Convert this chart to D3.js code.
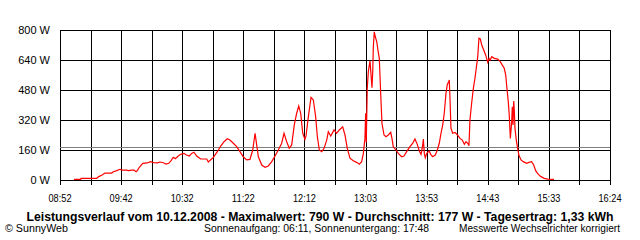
<!DOCTYPE html>
<meta charset="utf-8">
<style>
body { margin: 0; background: #fff; }
svg { font-family: "Liberation Sans", Arial, sans-serif; font-size: 10px; }
.grid line { stroke: #000; shape-rendering: crispEdges; }
</style>
<body>
<script src="https://cdn.jsdelivr.net/npm/d3@7"></script>
<script>

// day start 08:52, day end 16:24 (452 min); samples as minutes after start
var startLabel = "08:52";
var spanMinutes = 452;
var xTickLabels = ["08:52", "09:42", "10:32", "11:22", "12:12", "13:03", "13:53", "14:43", "15:33", "16:24"];
var yTicks = [0, 160, 320, 480, 640, 800];
var average = 177;

var minutesAfterStart = [
  11.5, 17.0, 17.3, 30.2, 31.8, 34.3, 37.0, 42.5, 43.8, 46.6,
  49.3, 51.2, 54.8, 56.1, 58.9, 60.8, 62.5, 63.5, 65.2, 68.0,
  71.7, 74.5, 77.2, 80.0, 82.2, 84.9, 87.1, 89.3, 91.0, 93.1,
  94.8, 97.2, 99.2, 101.9, 103.5, 106.3, 108.2, 110.1, 112.3, 115.6,
  120.6, 121.9, 126.0, 129.3, 132.1, 134.8, 137.5, 139.7, 142.4, 145.2,
  147.9, 150.6, 153.4, 156.1, 158.4, 160.3, 161.1, 163.0, 165.8, 168.5,
  171.2, 174.0, 176.7, 179.4, 182.2, 184.1, 186.3, 188.4, 190.4, 192.5,
  194.5, 196.2, 197.8, 199.5, 201.3, 202.2, 204.1, 206.3, 208.2, 210.1,
  211.5, 213.1, 215.1, 217.0, 219.2, 220.5, 222.5, 225.2, 227.4, 229.5,
  232.3, 234.2, 236.1, 238.3, 241.0, 243.8, 246.0, 247.9, 249.3, 250.6,
  251.2, 251.7, 252.5, 253.4, 254.2, 254.8, 255.6, 256.4, 257.0, 257.5,
  258.3, 259.1, 260.3, 261.3, 262.4, 263.6, 264.6, 266.3, 267.9, 269.8,
  271.8, 272.8, 273.9, 276.1, 278.0, 280.8, 282.7, 284.9, 287.6, 289.9,
  291.7, 293.6, 295.3, 296.7, 298.1, 298.6, 299.4, 300.2, 301.4, 303.5,
  304.6, 306.3, 308.4, 310.1, 311.7, 313.1, 314.5, 315.8, 317.2, 318.3,
  319.4, 319.9, 320.5, 321.3, 322.7, 324.6, 326.7, 328.7, 330.6, 332.3,
  333.7, 335.1, 336.1, 336.9, 338.3, 339.7, 341.0, 342.1, 343.3, 344.3,
  345.4, 346.6, 348.2, 349.8, 351.5, 352.6, 353.6, 354.8, 356.9, 359.7,
  361.8, 363.5, 365.1, 366.3, 367.3, 368.4, 369.2, 370.1, 371.2, 371.7,
  372.3, 372.9, 373.4, 373.9, 375.0, 376.1, 377.2, 378.9, 380.7, 383.5,
  385.4, 387.6, 389.3, 390.9, 393.1, 395.3, 398.0, 400.8, 406.0
];
var watts = [
  3, 3, 9, 9, 18, 25, 37, 37, 44, 50,
  57, 53, 53, 50, 53, 53, 44, 50, 68, 89,
  91, 98, 92, 91, 96, 92, 85, 89, 101, 121,
  114, 128, 137, 142, 135, 128, 142, 148, 128, 112,
  112, 96, 121, 151, 181, 204, 220, 213, 196, 178,
  151, 124, 107, 110, 160, 249, 213, 124, 80, 68,
  75, 98, 128, 160, 196, 249, 204, 169, 187, 293,
  356, 395, 356, 249, 217, 235, 338, 441, 427, 338,
  231, 160, 151, 169, 213, 258, 235, 267, 249, 267,
  284, 240, 169, 116, 103, 94, 84, 98, 142, 222,
  356, 200, 489, 578, 613, 635, 560, 492, 578, 711,
  790, 764, 738, 693, 649, 453, 302, 240, 231, 240,
  254, 222, 178, 160, 142, 124, 128, 151, 178, 196,
  219, 190, 155, 137, 187, 219, 142, 119, 142, 155,
  137, 124, 133, 160, 196, 249, 293, 356, 462, 510,
  524, 533, 436, 276, 249, 254, 240, 222, 213, 190,
  204, 196, 183, 320, 409, 489, 542, 596, 658, 756,
  752, 720, 693, 667, 628, 649, 640, 658, 649, 645,
  631, 613, 596, 560, 489, 418, 347, 222, 311, 391,
  293, 421, 364, 276, 213, 169, 130, 107, 98, 89,
  94, 98, 80, 50, 30, 18, 9, 5, 3
];

var width = 640, height = 240;
var svg = d3.select("body").append("svg")
    .attr("width", width)
    .attr("height", height);

var x = d3.scaleLinear().domain([0, spanMinutes]).range([60, 610]);
var y = d3.scaleLinear().domain([0, 800]).range([180, 30]);

var grid = svg.append("g").attr("class", "grid");

// vertical grid, two per labelled tick, plus small ticks under the axis
var vlines = d3.range(0, 19).map(function (i) { return i * spanMinutes / 18; });
grid.selectAll("line.v").data(vlines).enter().append("line")
    .attr("class", "v")
    .attr("x1", function (d) { return Math.round(x(d)) + 0.5; })
    .attr("x2", function (d) { return Math.round(x(d)) + 0.5; })
    .attr("y1", y(800))
    .attr("y2", y(0) + 5);

grid.selectAll("line.h").data(yTicks).enter().append("line")
    .attr("class", "h")
    .attr("x1", x(0))
    .attr("x2", x(spanMinutes) + 1)
    .attr("y1", function (d) { return Math.round(y(d)) + 0.5; })
    .attr("y2", function (d) { return Math.round(y(d)) + 0.5; });

// average line
svg.append("line")
    .attr("x1", x(0)).attr("x2", x(spanMinutes))
    .attr("y1", Math.round(y(average)) + 0.5)
    .attr("y2", Math.round(y(average)) + 0.5)
    .attr("stroke", "#808080")
    .style("shape-rendering", "crispEdges");

svg.selectAll("text.ylab").data(yTicks).enter().append("text")
    .attr("class", "ylab")
    .attr("x", 50)
    .attr("y", function (d) { return y(d) + 4; })
    .attr("text-anchor", "end")
    .style("font-size", "11px")
    .text(function (d) { return d + " W"; });

svg.selectAll("text.xlab").data(xTickLabels).enter().append("text")
    .attr("class", "xlab")
    .attr("x", function (d, i) { return x(i * spanMinutes / 9); })
    .attr("y", 202)
    .attr("text-anchor", "middle")
    .style("font-size", "11px")
    .attr("textLength", 23)
    .attr("lengthAdjust", "spacingAndGlyphs")
    .text(function (d) { return d; });

var points = minutesAfterStart.map(function (m, i) { return [m, watts[i]]; });
var line = d3.line()
    .x(function (d) { return x(d[0]); })
    .y(function (d) { return y(d[1]); });

svg.append("path")
    .datum(points)
    .attr("d", line)
    .attr("fill", "none")
    .attr("stroke", "#ff0000")
    .attr("stroke-width", 1.2);

svg.append("text")
    .attr("x", 320).attr("y", 221)
    .attr("text-anchor", "middle")
    .style("font-weight", "bold")
    .style("font-size", "12px")
    .attr("textLength", 587)
    .attr("lengthAdjust", "spacingAndGlyphs")
    .text("Leistungsverlauf vom 10.12.2008 - Maximalwert: 790 W - Durchschnitt: 177 W - Tagesertrag: 1,33 kWh");

svg.append("text")
    .attr("x", 5).attr("y", 232)
    .attr("textLength", 63)
    .attr("lengthAdjust", "spacingAndGlyphs")
    .text("\u00a9 SunnyWeb");

svg.append("text")
    .attr("x", 204).attr("y", 232)
    .attr("textLength", 225)
    .attr("lengthAdjust", "spacingAndGlyphs")
    .text("Sonnenaufgang: 06:11, Sonnenuntergang: 17:48");

svg.append("text")
    .attr("x", 459).attr("y", 232)
    .attr("textLength", 161)
    .attr("lengthAdjust", "spacingAndGlyphs")
    .text("Messwerte Wechselrichter korrigiert");

</script>
